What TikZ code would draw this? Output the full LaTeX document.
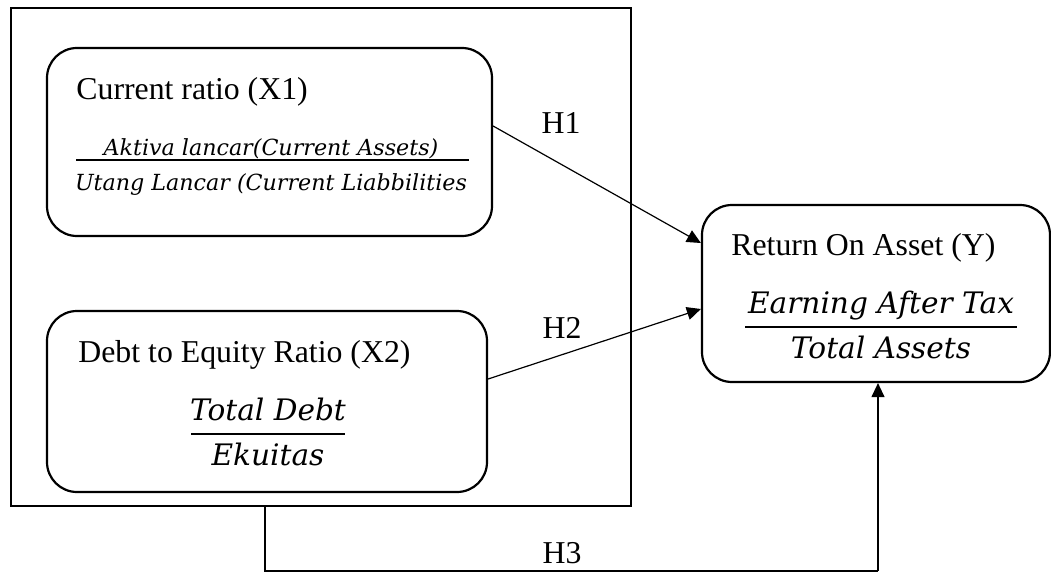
\documentclass[tikz,border=0pt]{standalone}
\usepackage{fontspec}
\setmainfont{Liberation Serif}
\newfontfamily\eqfont{DejaVu Serif}[UprightFont=* Italic]
\usetikzlibrary{arrows.meta,calc}
\tikzset{
  rbox/.style={draw, line width=1.1pt, rounded corners=15pt, inner sep=0pt},
  outerbox/.style={draw, line width=1pt, inner sep=0pt},
  lbl/.style={font=\fontsize{15.9}{19}\selectfont, inner sep=0pt},
  fracsmall/.style={font=\eqfont\fontsize{11.1}{13}\selectfont, inner sep=0pt},
  fracbig/.style={font=\eqfont\fontsize{14.8}{17}\selectfont, inner sep=0pt},
  fracline/.style={line width=1pt},
  conn/.style={line width=0.6pt, -{Triangle[length=7pt,width=6.5pt]}},
  plain/.style={line width=0.6pt}
}
\begin{document}
\begin{tikzpicture}[x=0.5pt,y=-0.5pt]
\useasboundingbox (0,0) rectangle (1051,573);
% outer group rectangle
\node[outerbox, minimum width=310pt, minimum height=249pt] (group) at (321,257) {};
% rounded boxes
\node[rbox, minimum width=222.5pt, minimum height=94pt] (box1) at (269.5,142) {};
\node[rbox, minimum width=220pt, minimum height=90.5pt] (box2) at (267,401.5) {};
\node[rbox, minimum width=174pt, minimum height=88.5pt] (boxY) at (876,293.5) {};
% box 1 texts
\node[lbl, anchor=base west] (t1) at (76,99) {Current ratio (X1)};
\node[fracsmall, anchor=base] (n1) at (271,155) {Aktiva lancar(Current Assets)};
\draw[fracline] (76,160) -- (469,160);
\node[fracsmall, anchor=base] (d1) at (271,190) {Utang Lancar (Current Liabbilities};
% box 2 texts
\node[lbl, anchor=base west] (t2) at (78,362) {Debt to Equity Ratio (X2)};
\node[fracbig, anchor=base] (n2) at (268,420) {Total Debt};
\draw[fracline] (191,434) -- (345,434);
\node[fracbig, anchor=base] (d2) at (268,465) {Ekuitas};
% box Y texts
\node[lbl, anchor=base west] (tY) at (731,255) {Return On Asset (Y)};
\node[fracbig, anchor=base] (nY) at (881,313) {Earning After Tax};
\draw[fracline] (745,327) -- (1017,327);
\node[fracbig, anchor=base] (dY) at (881,358) {Total Assets};
% connectors
\draw[conn] ([yshift=8pt]box1.east) -- ([yshift=25.25pt]boxY.west);
\draw[conn] ([yshift=11.25pt]box2.east) -- ([yshift=-7.75pt]boxY.west);
\coordinate (h3l) at (265,571);
\coordinate (h3r) at (878,571);
\draw[plain] (group.south -| h3l) -- (h3l) -- (h3r);
\draw[conn] (h3r) -- (boxY.south -| h3r);
% labels
\node[lbl] (H1) at (561,123) {H1};
\node[lbl] (H2) at (562,328) {H2};
\node[lbl] (H3) at (562,553) {H3};
\end{tikzpicture}
\end{document}
